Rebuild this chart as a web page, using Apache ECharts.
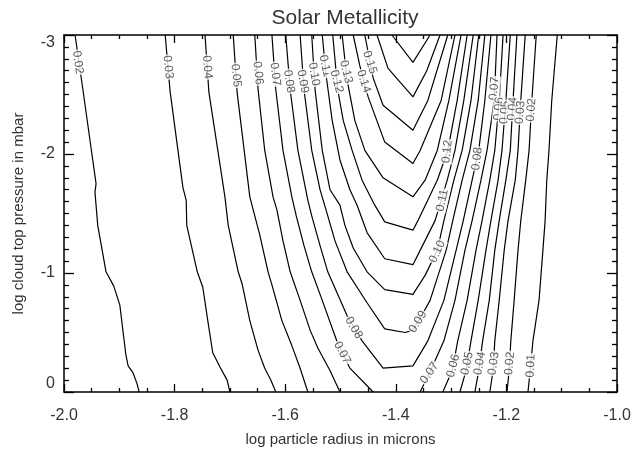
<!DOCTYPE html>
<html><head><meta charset="utf-8">
<script src="https://cdn.jsdelivr.net/npm/echarts@6/dist/echarts.min.js"></script>
<style>html,body{margin:0;padding:0;background:#fff}#c{width:635px;height:453px}</style>
</head><body><div id="c"></div>
<script>
// tick labels
const xTickLabels = ['-2.0','-1.8','-1.6','-1.4','-1.2','-1.0'];
const yTickLabels = ['-3','-2','-1','0'];

// contour lines: [log radius, log pressure]
const c002 = [[-1.980,-3.00],[-1.967,-2.58],[-1.942,-1.75],[-1.944,-1.68],[-1.939,-1.40],[-1.924,-1.01],[-1.910,-0.89],[-1.899,-0.73],[-1.892,-0.46],[-1.888,-0.31],[-1.884,-0.22],[-1.875,-0.16],[-1.868,-0.07],[-1.864,0]];
const c003 = [[-1.817,-3.00],[-1.808,-2.52],[-1.785,-1.72],[-1.779,-1.61],[-1.778,-1.40],[-1.759,-1.01],[-1.749,-0.88],[-1.740,-0.60],[-1.731,-0.33],[-1.718,-0.21],[-1.705,-0.10],[-1.700,0]];
const c004 = [[-1.745,-3.00],[-1.738,-2.52],[-1.709,-1.64],[-1.703,-1.40],[-1.685,-1.01],[-1.678,-0.91],[-1.664,-0.60],[-1.649,-0.35],[-1.637,-0.20],[-1.626,-0.10],[-1.617,0]];
const c005 = [[-1.694,-3.00],[-1.687,-2.52],[-1.664,-1.64],[-1.655,-1.48],[-1.646,-1.32],[-1.631,-1.01],[-1.624,-0.90],[-1.606,-0.60],[-1.588,-0.39],[-1.573,-0.20],[-1.559,0]];
const c006 = [[-1.655,-3.00],[-1.649,-2.54],[-1.637,-2.03],[-1.622,-1.64],[-1.615,-1.53],[-1.604,-1.27],[-1.591,-1.01],[-1.573,-0.77],[-1.555,-0.52],[-1.541,-0.37],[-1.519,-0.18],[-1.501,0]];
const c007a = [[-1.624,-3.00],[-1.617,-2.54],[-1.604,-2.03],[-1.588,-1.64],[-1.580,-1.48],[-1.566,-1.23],[-1.552,-1.01],[-1.533,-0.77],[-1.506,-0.42],[-1.483,-0.20],[-1.441,0]];
const c008 = [[-1.599,-3.00],[-1.591,-2.54],[-1.577,-2.03],[-1.559,-1.61],[-1.552,-1.48],[-1.537,-1.23],[-1.523,-1.01],[-1.488,-0.64],[-1.461,-0.43],[-1.423,-0.20],[-1.369,-0.22],[-1.342,-0.43],[-1.313,-0.77],[-1.291,-1.19],[-1.278,-1.44],[-1.262,-1.78],[-1.250,-2.03],[-1.239,-2.45],[-1.228,-3.00]];
const c009 = [[-1.573,-3.00],[-1.566,-2.54],[-1.552,-2.03],[-1.537,-1.70],[-1.523,-1.48],[-1.510,-1.27],[-1.488,-1.01],[-1.452,-0.75],[-1.420,-0.53],[-1.383,-0.50],[-1.369,-0.52],[-1.356,-0.62],[-1.338,-0.77],[-1.309,-1.19],[-1.297,-1.44],[-1.280,-1.78],[-1.266,-2.03],[-1.251,-2.45],[-1.239,-3.00]];
const c010 = [[-1.552,-3.00],[-1.546,-2.54],[-1.533,-2.03],[-1.519,-1.70],[-1.501,-1.57],[-1.492,-1.40],[-1.477,-1.21],[-1.452,-1.01],[-1.420,-0.86],[-1.369,-0.82],[-1.347,-0.98],[-1.325,-1.19],[-1.313,-1.44],[-1.295,-1.78],[-1.280,-2.03],[-1.264,-2.45],[-1.250,-3.00]];
const c011 = [[-1.533,-3.00],[-1.526,-2.66],[-1.515,-2.28],[-1.501,-1.95],[-1.483,-1.70],[-1.470,-1.57],[-1.452,-1.34],[-1.420,-1.12],[-1.369,-1.07],[-1.356,-1.19],[-1.329,-1.44],[-1.307,-1.78],[-1.293,-2.03],[-1.277,-2.45],[-1.260,-3.00]];
const c012 = [[-1.514,-3.00],[-1.505,-2.54],[-1.495,-2.28],[-1.479,-2.03],[-1.461,-1.78],[-1.438,-1.57],[-1.420,-1.43],[-1.369,-1.36],[-1.360,-1.44],[-1.325,-1.78],[-1.306,-2.03],[-1.289,-2.45],[-1.271,-3.00]];
const c013 = [[-1.497,-3.00],[-1.488,-2.62],[-1.474,-2.28],[-1.456,-2.03],[-1.423,-1.80],[-1.369,-1.64],[-1.347,-1.78],[-1.325,-2.03],[-1.304,-2.45],[-1.282,-3.00]];
const c014 = [[-1.477,-3.00],[-1.465,-2.74],[-1.450,-2.48],[-1.420,-2.10],[-1.369,-1.92],[-1.356,-2.03],[-1.318,-2.45],[-1.293,-3.00]];
const c015 = [[-1.456,-3.00],[-1.441,-2.64],[-1.423,-2.41],[-1.369,-2.20],[-1.342,-2.45],[-1.306,-3.00]];
const c016 = [[-1.434,-3.00],[-1.414,-2.72],[-1.369,-2.48],[-1.344,-2.70],[-1.320,-3.00]];
const c017 = [[-1.407,-3.00],[-1.369,-2.77],[-1.338,-3.00]];
const c007b = [[-1.356,0],[-1.337,-0.18],[-1.313,-0.43],[-1.293,-0.77],[-1.275,-1.19],[-1.262,-1.44],[-1.246,-1.78],[-1.235,-2.03],[-1.222,-2.45],[-1.217,-3.00]];
const c006b = [[-1.315,0],[-1.298,-0.18],[-1.288,-0.43],[-1.271,-0.77],[-1.255,-1.19],[-1.244,-1.44],[-1.230,-1.78],[-1.221,-2.03],[-1.213,-2.45],[-1.206,-3.00]];
const c005b = [[-1.284,0],[-1.273,-0.18],[-1.264,-0.43],[-1.251,-0.77],[-1.237,-1.19],[-1.228,-1.44],[-1.215,-1.78],[-1.208,-2.03],[-1.201,-2.45],[-1.193,-3.00]];
const c004b = [[-1.257,0],[-1.250,-0.18],[-1.243,-0.43],[-1.231,-0.77],[-1.221,-1.19],[-1.213,-1.44],[-1.201,-1.78],[-1.193,-2.03],[-1.188,-2.45],[-1.181,-3.00]];
const c003b = [[-1.230,0],[-1.224,-0.18],[-1.221,-0.43],[-1.213,-0.77],[-1.204,-1.19],[-1.197,-1.44],[-1.184,-1.78],[-1.179,-2.03],[-1.174,-2.45],[-1.166,-3.00]];
const c002b = [[-1.199,0],[-1.195,-0.18],[-1.192,-0.43],[-1.186,-0.77],[-1.179,-1.19],[-1.174,-1.44],[-1.165,-1.78],[-1.159,-2.03],[-1.154,-2.45],[-1.146,-3.00]];
const c001 = [[-1.161,0],[-1.157,-0.18],[-1.152,-0.43],[-1.141,-0.77],[-1.134,-1.19],[-1.130,-1.44],[-1.127,-1.78],[-1.123,-2.03],[-1.118,-2.45],[-1.108,-3.00]];

// contour labels
const labelText = ['0.02','0.03','0.04','0.05','0.06','0.07','0.08','0.09','0.10','0.11','0.12','0.13','0.14','0.15',
  '0.07','0.06','0.05','0.04','0.03','0.02',
  '0.12','0.08','0.11','0.10','0.09',
  '0.07','0.06','0.05','0.04','0.03','0.02','0.01',
  '0.08','0.07'];
const labelX = [-1.975,-1.812,-1.741,-1.689,-1.649,-1.618,-1.593,-1.568,-1.548,-1.528,-1.507,-1.490,-1.458,-1.447,
  -1.222,-1.214,-1.203,-1.189,-1.175,-1.155,
  -1.307,-1.253,-1.316,-1.325,-1.360,
  -1.339,-1.296,-1.271,-1.248,-1.223,-1.194,-1.156,
  -1.476,-1.497];
const labelY = [-2.77,-2.73,-2.73,-2.66,-2.68,-2.67,-2.61,-2.61,-2.67,-2.74,-2.61,-2.69,-2.61,-2.77,
  -2.55,-2.38,-2.35,-2.38,-2.35,-2.37,
  -2.02,-1.96,-1.61,-1.18,-0.59,
  -0.16,-0.22,-0.24,-0.24,-0.24,-0.24,-0.22,
  -0.54,-0.33];
const labelRot = [-82,-84,-85,-84,-84,-83,-81,-80,-80,-78,-76,-76,-72,-72,
  85,85,85,85,85,86,
  84,83,78,65,58,
  55,75,78,80,82,85,87,
  -59,-62];

const FONT = '"Liberation Sans", Helvetica, Arial, sans-serif';
const contours = [c002,c003,c004,c005,c006,c007a,c008,c009,c010,c011,c012,c013,c014,c015,c016,c017,
  c007b,c006b,c005b,c004b,c003b,c002b,c001];

const lineSeries = contours.map(d => ({
  type:'line', data:d, symbol:'none', showSymbol:false, silent:true, animation:false, z:2,
  lineStyle:{color:'#000', width:1.2}
}));
const labelSeries = {
  type:'scatter', silent:true, animation:false, z:5, symbolSize:1,
  itemStyle:{color:'rgba(0,0,0,0)'},
  data: labelText.map((t,i) => ({name:t, value:[labelX[i], labelY[i]], label:{rotate:labelRot[i]}})),
  label:{show:true, position:'inside', formatter:'{b}', fontSize:12, color:'#333', fontFamily:FONT,
    backgroundColor:'#fff', padding:[0,1,0,1]}
};

const tickStyle = {color:'#000', width:1.3};
const axisLine = {show:true, onZero:false, lineStyle:{color:'#000', width:1.5}};
function xAx(pos, labels){
  return {type:'value', min:-2, max:-1, interval:0.2, position:pos, axisLine,
    splitLine:{show:false},
    axisTick:{show:true, inside:true, length:8, lineStyle:tickStyle},
    minorTick:{show:true, splitNumber:4, length:4, lineStyle:tickStyle},
    axisLabel: labels ? {show:true, margin:16, fontSize:16, color:'#333', fontFamily:FONT,
      formatter:v => xTickLabels[Math.round((v+2)/0.2)]} : {show:false},
    name: labels ? 'log particle radius in microns' : '', nameLocation:'middle', nameGap:40,
    nameTextStyle:{fontSize:15, color:'#333', fontFamily:FONT}};
}
function yAx(pos, labels){
  return {type:'value', min:-3, max:0, interval:1, inverse:true, position:pos, axisLine,
    splitLine:{show:false},
    axisTick:{show:true, inside:true, length:10, lineStyle:tickStyle},
    minorTick:{show:true, splitNumber:10, length:5, lineStyle:tickStyle},
    axisLabel: labels ? {show:true, margin:9, fontSize:16, color:'#333', fontFamily:FONT,
      verticalAlignMinLabel:'top', verticalAlignMaxLabel:'bottom',
      formatter:v => yTickLabels[Math.round(v+3)]} : {show:false},
    name: labels ? 'log cloud top pressure in mbar' : '', nameLocation:'middle', nameGap:38,
    nameTextStyle:{fontSize:15, color:'#333', fontFamily:FONT}};
}

const chart = echarts.init(document.getElementById('c'));
chart.setOption({
  backgroundColor:'#fff',
  animation:false,
  title:{text:'Solar Metallicity', left:340, top:3, textAlign:'center',
    textStyle:{fontSize:21, fontWeight:'normal', color:'#333', fontFamily:FONT}},
  grid:{left:64, right:18, top:35, bottom:61, containLabel:false},
  xAxis:[xAx('bottom', true), xAx('top', false)],
  yAxis:[yAx('left', true), yAx('right', false)],
  series:[...lineSeries, labelSeries]
});
</script></body></html>
